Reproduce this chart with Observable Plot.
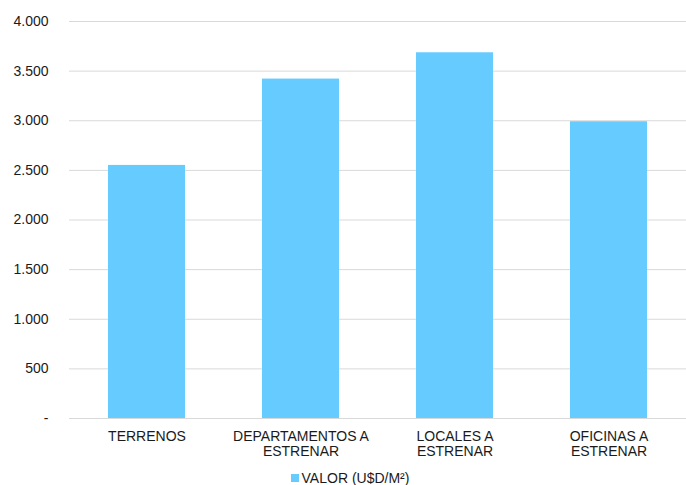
<!DOCTYPE html>
<html>
<head>
<meta charset="utf-8">
<script src="https://cdn.jsdelivr.net/npm/d3@7"></script>
<script src="https://cdn.jsdelivr.net/npm/@observablehq/plot@0.6"></script>
<style>
  body { margin: 0; background: #fff; font-family: "Liberation Sans", Arial, sans-serif; }
  #legend { height: 20px; line-height: 20px; display: flex; justify-content: center; align-items: center; font-size: 14px; color: #1a1a1a; padding-left: 14px; }
  #legend .sw { width: 8px; height: 8px; background: #66CCFF; margin-right: 3px; }
</style>
</head>
<body>
<div id="chart"></div>
<div id="legend"><span class="sw"></span><span>VALOR (U$D/M²)</span></div>
<script>
const categories = ["TERRENOS", "DEPARTAMENTOS A ESTRENAR", "LOCALES A ESTRENAR", "OFICINAS A ESTRENAR"];
const tickLabels = ["TERRENOS", "DEPARTAMENTOS A\nESTRENAR", "LOCALES A\nESTRENAR", "OFICINAS A\nESTRENAR"];
const values = [2550, 3420, 3685, 2990];
const yTicks = [0, 500, 1000, 1500, 2000, 2500, 3000, 3500, 4000];
const seriesName = "VALOR (U$D/M²)";

const data = categories.map((c, i) => ({category: c, value: values[i]}));
const labelOf = new Map(categories.map((c, i) => [c, tickLabels[i]]));
const fmt = v => v === 0 ? "-" : d3.format(",")(v).replace(/,/g, ".");

const chart = Plot.plot({
  width: 686,
  height: 468,
  marginTop: 21,
  marginBottom: 50,
  marginLeft: 69,
  marginRight: 0,
  style: {fontFamily: "'Liberation Sans', Arial, sans-serif", fontSize: "14px", color: "#1a1a1a"},
  x: {domain: categories, paddingInner: 0.5, paddingOuter: 0.25, label: null},
  y: {domain: [0, 4000], label: null},
  marks: [
    Plot.ruleY(yTicks, {stroke: "#d9d9d9", strokeWidth: 1}),
    Plot.barY(data, {x: "category", y: "value", fill: "#66CCFF"}),
    Plot.axisY({ticks: yTicks, tickFormat: fmt, tickSize: 0, tickPadding: 21, fontSize: 14, label: null}),
    Plot.axisX({tickSize: 0, tickPadding: 12, tickFormat: c => labelOf.get(c), fontSize: 14, lineHeight: 1.08, label: null})
  ]
});
document.getElementById("chart").appendChild(chart);
</script>
</body>
</html>
